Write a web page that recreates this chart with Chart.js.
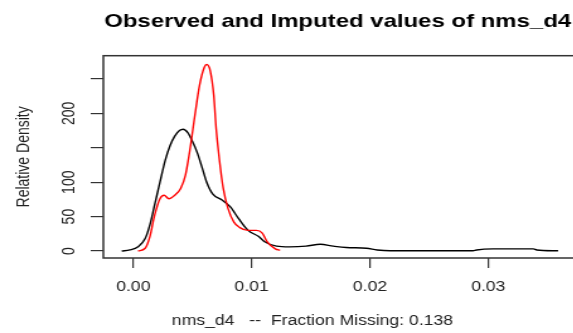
<!DOCTYPE html>
<html>
<head>
<meta charset="utf-8">
<script src="https://cdn.jsdelivr.net/npm/chart.js@4"></script>
<style>
  html, body { margin: 0; padding: 0; background: #fff; overflow: hidden; }
  #wrap { width: 573px; height: 333px; overflow: hidden; position: relative; }
  #densPlot { transform: scaleX(1.26); transform-origin: 0 0; }
</style>
</head>
<body>
<div id="wrap"><canvas id="densPlot" width="536" height="333"></canvas></div>
<script>
// observed density (black)
const obsX = [-0.00098, -0.0003, 0.0004, 0.001, 0.0014, 0.0018, 0.00225, 0.0027, 0.0031, 0.0035, 0.0039, 0.0042, 0.0046, 0.0050, 0.0054, 0.0058, 0.0062, 0.0067, 0.0075, 0.0082, 0.0089, 0.0097, 0.0106, 0.0111, 0.0121, 0.0132, 0.0146, 0.0158, 0.0169, 0.018, 0.0197, 0.0206, 0.0217, 0.0287, 0.029, 0.0304, 0.0338, 0.0341, 0.0359];
const obsY = [0, 1.5, 6, 18, 38, 67, 100, 132, 153, 167, 175, 177, 172, 159, 143, 122, 100, 83, 74, 64, 47, 30, 21, 13.5, 7, 6, 7, 9.7, 7, 5, 4, 1.5, 0.3, 0.3, 1.5, 3, 3, 1.5, 0.3];
// imputed density (red)
const impX = [0.0004, 0.001, 0.0014, 0.0018, 0.00225, 0.0026, 0.003, 0.0035, 0.004, 0.0044, 0.0048, 0.0052, 0.0056, 0.006, 0.0062, 0.0065, 0.0068, 0.007, 0.0073, 0.0076, 0.008, 0.0085, 0.009, 0.0097, 0.0104, 0.0109, 0.0113, 0.012, 0.0124];
const impY = [0, 4, 21, 52, 76, 81, 76, 81, 91, 110, 149, 197, 241, 267, 271, 262, 226, 178, 129, 91, 62, 42, 34, 30, 30, 26, 13.5, 3, 1];

const xTicks = [0, 0.01, 0.02, 0.03];
const yTicks = [0, 50, 100, 150, 200, 250];
const yLabels = [0, 50, 100, 200]; // 150 and 250 have no label

const FONT = '"Liberation Sans", Arial, sans-serif';
const toPts = (xs, ys) => xs.map((x, i) => ({x: x, y: ys[i]}));

// box, rotated y labels and the x axis caption
const rBox = {
  id: 'rBox',
  afterDraw(chart) {
    const c = chart.ctx, a = chart.chartArea, ys = chart.scales.y;
    c.save();
    c.strokeStyle = '#333';
    c.lineWidth = 1.5;
    c.strokeRect(a.left, a.top, a.right - a.left, a.bottom - a.top);
    c.fillStyle = '#222';
    c.font = '14px ' + FONT;
    c.textAlign = 'center';
    c.textBaseline = 'middle';
    yLabels.forEach(v => {
      c.save();
      c.translate(55, ys.getPixelForValue(v));
      c.rotate(-Math.PI / 2);
      c.fillText(String(v), 0, 0);
      c.restore();
    });
    c.save();
    c.translate(19, (a.top + a.bottom) / 2);
    c.rotate(-Math.PI / 2);
    c.fillText('Relative Density', 0, 0);
    c.restore();
    c.fillText('nms_d4   --  Fraction Missing: 0.138', 248, 321);
    c.restore();
  }
};

const ctx = document.getElementById('densPlot').getContext('2d');
new Chart(ctx, {
  type: 'line',
  data: {
    datasets: [
      {label: 'observed', data: toPts(obsX, obsY), borderColor: '#000', borderWidth: 1.4, pointRadius: 0, cubicInterpolationMode: 'monotone', order: 1},
      {label: 'imputed', data: toPts(impX, impY), borderColor: '#ff0000', borderWidth: 1.4, pointRadius: 0, cubicInterpolationMode: 'monotone', order: 0}
    ]
  },
  options: {
    responsive: false,
    animation: false,
    layout: {padding: 0},
    plugins: {
      legend: {display: false},
      tooltip: {enabled: false},
      title: {
        display: true,
        text: 'Observed and Imputed values of nms_d4',
        color: '#000',
        font: {family: FONT, size: 19, weight: 'bold'},
        padding: {top: 10, bottom: 22.9}
      }
    },
    scales: {
      x: {
        type: 'linear',
        min: -0.002535,
        max: 0.04581,
        afterBuildTicks: s => { s.ticks = xTicks.map(v => ({value: v})); },
        afterFit: s => { s.height = 75; },
        border: {display: false},
        grid: {drawOnChartArea: false, drawTicks: true, tickLength: 10, color: '#333', lineWidth: 1.2},
        ticks: {color: '#222', font: {family: FONT, size: 14}, padding: 11, maxRotation: 0, callback: v => v.toFixed(2)}
      },
      y: {
        min: -10.2,
        max: 283.9,
        afterBuildTicks: s => { s.ticks = yTicks.map(v => ({value: v})); },
        afterFit: s => { s.width = 82; },
        border: {display: false},
        grid: {drawOnChartArea: false, drawTicks: true, tickLength: 10, color: '#333', lineWidth: 1.2},
        ticks: {display: false}
      }
    }
  },
  plugins: [rBox]
});
</script>
</body>
</html>
